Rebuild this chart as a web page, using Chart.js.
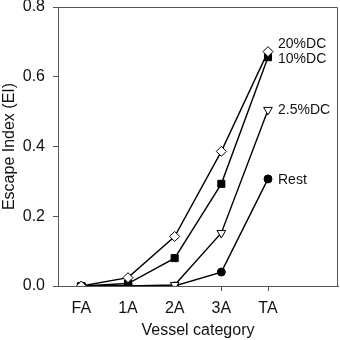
<!DOCTYPE html>
<html>
<head>
<meta charset="utf-8">
<script src="https://cdn.jsdelivr.net/npm/chart.js@4/dist/chart.umd.min.js"></script>
<style>
html,body{margin:0;padding:0;background:#fff;}
#wrap{width:340px;height:340px;}
</style>
</head>
<body>
<div id="wrap"><canvas id="c" width="340" height="340"></canvas></div>
<script>
const categories = ['FA', '1A', '2A', '3A', 'TA'];
const seriesNames = ['20%DC', '10%DC', '2.5%DC', 'Rest'];
const dc20 = [0, 0.024, 0.142, 0.386, 0.672];
const dc10 = [0, 0.007, 0.080, 0.293, 0.656];
const dc25 = [0, 0, 0.003, 0.152, 0.505];
const rest = [0, 0.001, 0, 0.040, 0.307];
const yTicks = [0.0, 0.2, 0.4, 0.6, 0.8];

const FONT = 'Liberation Sans, Arial, sans-serif';
const AXIS_COLOR = '#555';
const PLOT_RIGHT = 338;

function pts(arr) { return arr.map((v, i) => ({ x: i + 1, y: v })); }

const styles = [
  { pointStyle: 'rectRot', bg: '#fff', r: 5, rot: 0 },
  { pointStyle: 'rect', bg: '#000', r: 5, rot: 0 },
  { pointStyle: 'triangle', bg: '#fff', r: 5, rot: 180 },
  { pointStyle: 'circle', bg: '#000', r: 4, rot: 0 }
];
const labelOffsets = [[10, -7], [10, 2], [10, 0], [10, 1]];

const allSeries = [dc20, dc10, dc25, rest];
const datasets = allSeries.map((s, i) => ({
  label: seriesNames[i],
  data: pts(s),
  borderColor: '#000',
  borderWidth: 1.4,
  pointStyle: styles[i].pointStyle,
  pointRotation: styles[i].rot,
  pointRadius: styles[i].r,
  pointBackgroundColor: styles[i].bg,
  pointBorderColor: '#000',
  pointBorderWidth: 1,
  fill: false,
  tension: 0
}));

const widenPlugin = {
  id: 'widen',
  afterLayout(chart) {
    const x = chart.scales.x;
    chart.chartArea.right = PLOT_RIGHT;
    chart.chartArea.width = PLOT_RIGHT - chart.chartArea.left;
    x.right = PLOT_RIGHT;
    x.width = x.right - x.left;
    x.configure();
  }
};

const framePlugin = {
  id: 'frame',
  beforeDatasetsDraw(chart) {
    const { ctx, chartArea: a } = chart;
    ctx.save();
    ctx.strokeStyle = AXIS_COLOR;
    ctx.lineWidth = 1;
    ctx.beginPath();
    ctx.moveTo(a.left, a.top + 0.5);
    ctx.lineTo(a.right - 0.5, a.top + 0.5);
    ctx.lineTo(a.right - 0.5, a.bottom);
    ctx.stroke();
    ctx.restore();
  }
};

const endLabels = {
  id: 'endLabels',
  afterDatasetsDraw(chart) {
    const { ctx } = chart;
    ctx.save();
    ctx.font = '14px ' + FONT;
    ctx.fillStyle = '#111';
    ctx.textAlign = 'left';
    ctx.textBaseline = 'middle';
    chart.data.datasets.forEach((ds, i) => {
      const meta = chart.getDatasetMeta(i);
      const last = meta.data[meta.data.length - 1];
      ctx.fillText(ds.label, last.x + labelOffsets[i][0], last.y + labelOffsets[i][1]);
    });
    ctx.restore();
  }
};

new Chart(document.getElementById('c'), {
  type: 'line',
  data: { datasets },
  plugins: [widenPlugin, framePlugin, endLabels],
  options: {
    responsive: false,
    animation: false,
    layout: { padding: { top: 7, right: 2, left: 0, bottom: 0 } },
    plugins: { legend: { display: false }, tooltip: { enabled: false } },
    scales: {
      x: {
        type: 'linear',
        min: 0.5,
        max: 6.5,
        afterBuildTicks(s) { s.ticks = categories.map((c, i) => ({ value: i + 1 })); },
        afterFit(s) { s.height = 54; s.paddingLeft = 0; s.paddingRight = 0; },
        ticks: {
          callback: v => categories[v - 1] || '',
          font: { family: FONT, size: 16 },
          color: '#111',
          padding: 8,
          maxRotation: 0,
          autoSkip: false
        },
        grid: {
          drawOnChartArea: false,
          tickLength: 5,
          tickColor: c => (c.tick && c.tick.value >= 4 ? AXIS_COLOR : 'rgba(0,0,0,0)')
        },
        border: { color: AXIS_COLOR, width: 1 },
        title: {
          display: true,
          text: 'Vessel category',
          font: { family: FONT, size: 16 },
          color: '#111',
          padding: { top: 0, bottom: 0 }
        }
      },
      y: {
        min: 0,
        max: 0.8,
        afterBuildTicks(s) { s.ticks = yTicks.map(v => ({ value: v })); },
        afterFit(s) { s.width = 58; s.paddingTop = 0; s.paddingBottom = 0; },
        ticks: {
          callback: v => v.toFixed(1),
          font: { family: FONT, size: 16 },
          color: '#111',
          padding: 8
        },
        grid: { drawOnChartArea: false, tickLength: 5, color: AXIS_COLOR },
        border: { color: AXIS_COLOR, width: 1 },
        title: {
          display: true,
          text: 'Escape Index (EI)',
          font: { family: FONT, size: 16 },
          color: '#111',
          padding: { top: 0, bottom: 0 }
        }
      }
    }
  }
});
</script>
</body>
</html>
